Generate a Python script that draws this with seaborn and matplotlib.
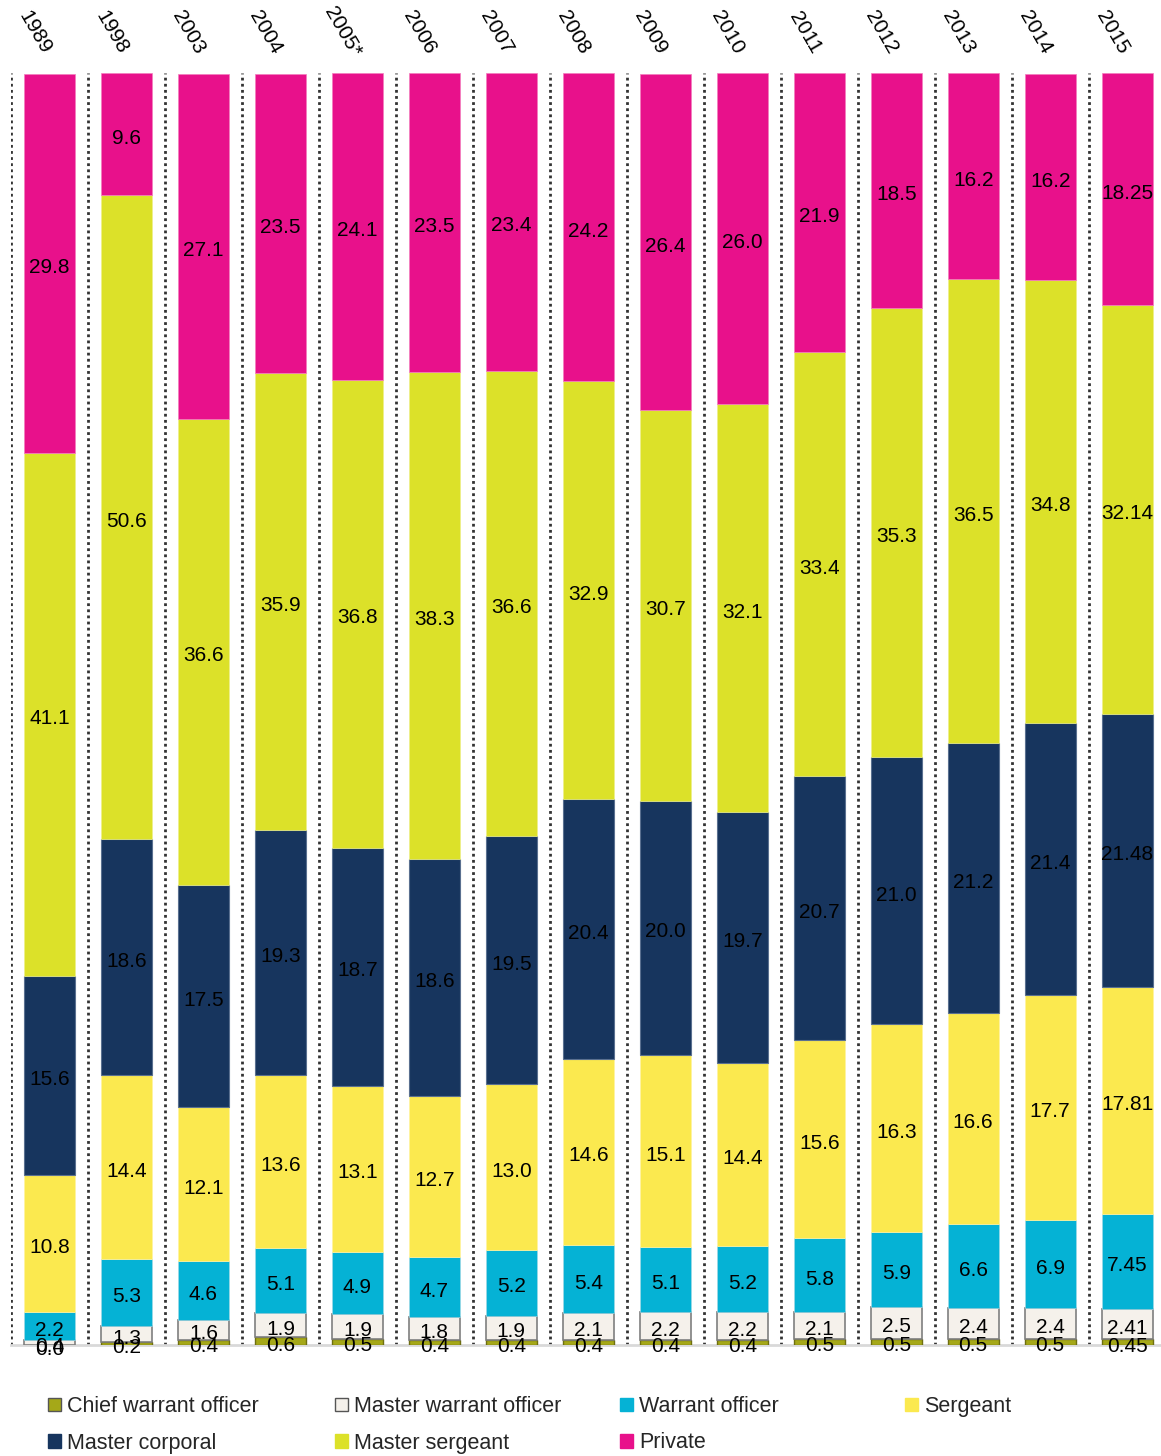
import numpy as np
import pandas as pd
import matplotlib
matplotlib.use("Agg")
import matplotlib.pyplot as plt
import matplotlib.transforms as mtransforms
from matplotlib.patches import Patch
import seaborn as sns

years = ["1989", "1998", "2003", "2004", "2005*", "2006", "2007", "2008",
         "2009", "2010", "2011", "2012", "2013", "2014", "2015"]

chief_warrant_officer = [0.0, 0.2, 0.4, 0.6, 0.5, 0.4, 0.4, 0.4, 0.4, 0.4, 0.5, 0.5, 0.5, 0.5, 0.45]
master_warrant_officer = [0.4, 1.3, 1.6, 1.9, 1.9, 1.8, 1.9, 2.1, 2.2, 2.2, 2.1, 2.5, 2.4, 2.4, 2.41]
warrant_officer = [2.2, 5.3, 4.6, 5.1, 4.9, 4.7, 5.2, 5.4, 5.1, 5.2, 5.8, 5.9, 6.6, 6.9, 7.45]
sergeant = [10.8, 14.4, 12.1, 13.6, 13.1, 12.7, 13.0, 14.6, 15.1, 14.4, 15.6, 16.3, 16.6, 17.7, 17.81]
master_corporal = [15.6, 18.6, 17.5, 19.3, 18.7, 18.6, 19.5, 20.4, 20.0, 19.7, 20.7, 21.0, 21.2, 21.4, 21.48]
master_sergeant = [41.1, 50.6, 36.6, 35.9, 36.8, 38.3, 36.6, 32.9, 30.7, 32.1, 33.4, 35.3, 36.5, 34.8, 32.14]
private = [29.8, 9.6, 27.1, 23.5, 24.1, 23.5, 23.4, 24.2, 26.4, 26.0, 21.9, 18.5, 16.2, 16.2, 18.25]

series_names = ["Chief warrant officer", "Master warrant officer", "Warrant officer",
                "Sergeant", "Master corporal", "Master sergeant", "Private"]
series_values = [chief_warrant_officer, master_warrant_officer, warrant_officer,
                 sergeant, master_corporal, master_sergeant, private]
colors = ["#A5A818", "#F5F1EB", "#05B2D5", "#FBE94F", "#17355E", "#DCE129", "#E8118B"]
edgecolors = ["#6E6E10", "#7F7F7F", "#9ED8E6", "#FFF3A0", "#5A7090", "#EEF08A", "#F47DBE"]
edgewidths = [1.0, 1.2, 0.5, 0.5, 0.8, 0.5, 0.5]

sns.set_theme(style="white")
plt.rcParams['font.family'] = ['Liberation Sans', 'DejaVu Sans']

W, H = 1161, 1456
fig = plt.figure(figsize=(W / 100, H / 100), dpi=100)
ax_bottom_px, ax_top_px = 1345, 73
ax_left_px = 11
ax = fig.add_axes([ax_left_px / W, (H - ax_bottom_px) / H,
                   (W - ax_left_px) / W, (ax_bottom_px - ax_top_px) / H])

cum = np.zeros(len(years))
for name, vals, c, ec, lw in zip(series_names, series_values, colors, edgecolors, edgewidths):
    vals = np.array(vals, dtype=float)
    df = pd.DataFrame({"year": years, "value": vals})
    sns.barplot(data=df, x="year", y="value", order=years, color=c, saturation=1,
                bottom=cum.copy(), width=0.66, errorbar=None, ax=ax,
                edgecolor=ec, linewidth=lw, zorder=3)
    for i, v in enumerate(vals):
        lab = f"{v:.2f}" if years[i] == "2015" else f"{v:.1f}"
        ax.annotate(lab, xy=(i, cum[i] + v / 2), xytext=(0, -3),
                    textcoords="offset points", ha="center", va="center",
                    fontsize=15, color="black", zorder=5, annotation_clip=False)
    cum += vals

ax.set_xlim(-0.5, 14.44)
ax.set_ylim(0, 100)
ax.set_xticks([])
ax.set_yticks([])
ax.set_xlabel("")
ax.set_ylabel("")
for s in ["top", "left", "right"]:
    ax.spines[s].set_visible(False)
ax.spines["bottom"].set_color("#D9D9D9")
ax.spines["bottom"].set_linewidth(2)
ax.spines["bottom"].set_zorder(1)

for i in range(len(years)):
    ax.axvline(i - 0.5, ymin=0, ymax=1, color="#333333", linestyle=(0, (1, 1.2)),
               linewidth=2, zorder=1)

trans = mtransforms.blended_transform_factory(ax.transData, ax.transAxes)
for i, y in enumerate(years):
    ax.text(i - 0.19, 1.032, y, transform=trans, rotation=-60, ha="center",
            va="center", fontsize=15, color="black", rotation_mode="default")

# legend: four columns positioned like the reference
handles = [Patch(facecolor=c, edgecolor=("#555555" if k in (0, 1) else c), linewidth=1)
           for k, c in enumerate(colors)]
col_x = [48, 335, 620, 905]
columns = [[0, 4], [1, 5], [2, 6], [3]]
for cx, idxs in zip(col_x, columns):
    fig.legend([handles[k] for k in idxs], [series_names[k] for k in idxs],
               loc="upper left", bbox_to_anchor=(cx / W, (H - 1396) / H),
               frameon=False, fontsize=15.5, handlelength=0.6, handleheight=0.6,
               handletextpad=0.3, labelspacing=0.72, borderpad=0, borderaxespad=0)

fig.savefig("out.png", dpi=100)
